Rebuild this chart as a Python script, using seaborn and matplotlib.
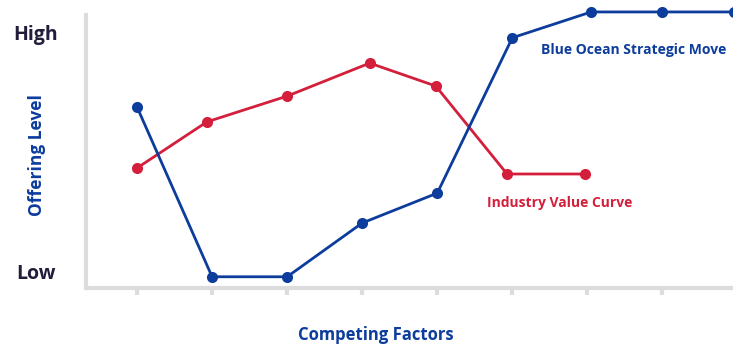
import matplotlib
matplotlib.use("Agg")
import matplotlib.pyplot as plt
import matplotlib.transforms as mtransforms
import seaborn as sns
import pandas as pd

# Data (offering level: Low=0, High=10)
blue_x = [0, 1, 2, 3, 4, 5, 6.05, 7, 7.95]
blue_y = [6.9, -0.2, -0.2, 2.05, 3.3, 9.8, 10.88, 10.88, 10.88]
red_x = [0, 0.93, 2, 3.1, 3.98, 4.93, 5.97]
red_y = [4.35, 6.28, 7.36, 8.74, 7.78, 4.1, 4.1]
y_ticks = [0, 10]
y_labels = ["Low", "High"]
x_ticks = [0, 1, 2, 3, 4, 5, 6, 7]
blue_name = "Blue Ocean Strategic Move"
red_name = "Industry Value Curve"

BLUE = "#0c3c9c"
RED = "#d31f3b"
GRAY = "#dcdcdc"
DARK = "#231d3b"

sns.set_theme(style="white")
plt.rcParams['font.family'] = ['Open Sans', 'DejaVu Sans']

W, H = 733, 345
fig = plt.figure(figsize=(W / 100, H / 100), dpi=100)
ax = fig.add_axes([86 / W, 57 / H, 1 - 86 / W, 1 - 57 / H])

df_b = pd.DataFrame({"x": blue_x, "y": blue_y})
df_r = pd.DataFrame({"x": red_x, "y": red_y})
sns.lineplot(data=df_r, x="x", y="y", color=RED, marker="o", markersize=8,
             markeredgewidth=0, linewidth=2, ax=ax, clip_on=False, sort=False)
sns.lineplot(data=df_b, x="x", y="y", color=BLUE, marker="o", markersize=8,
             markeredgewidth=0, linewidth=2, ax=ax, clip_on=False, sort=False)

ax.set_xlim(-0.68, 7.94)
ax.set_ylim(-0.67, 11.38)

for s in ["top", "right"]:
    ax.spines[s].set_visible(False)
for s in ["left", "bottom"]:
    ax.spines[s].set_color(GRAY)
    ax.spines[s].set_linewidth(3)
ax.spines["left"].set_bounds(-0.67, 10.75)

ax.set_xticks(x_ticks)
ax.set_xticklabels([])
ax.tick_params(axis="x", length=5, width=3, color=GRAY, direction="out", bottom=True)
ax.set_yticks([])
ax.set_xlabel("")
ax.set_ylabel("")

# Low / High labels placed at the y-values through a blended transform
trans = mtransforms.blended_transform_factory(fig.transFigure, ax.transData)
offset = mtransforms.ScaledTranslation(0, -2 / 100, fig.dpi_scale_trans)
for v, lab in zip(y_ticks, y_labels):
    fig.text(36 / W, v, lab, transform=trans + offset, fontsize=14, fontweight="bold",
             color=DARK, ha="center", va="center")

fig.text(376 / W, 1 - 335 / H, "Competing Factors", fontsize=12, fontweight="bold",
         color=BLUE, ha="center", va="center")
fig.text(37 / W, 1 - 155 / H, "Offering Level", fontsize=12.5, fontweight="bold",
         color=BLUE, ha="center", va="center", rotation=90)

ax.text(6.62, 9.29, blue_name, color=BLUE, fontsize=10, fontweight="bold",
        ha="center", va="center")
ax.text(5.63, 2.89, red_name, color=RED, fontsize=10, fontweight="bold",
        ha="center", va="center")

fig.savefig("out.png", dpi=100)
